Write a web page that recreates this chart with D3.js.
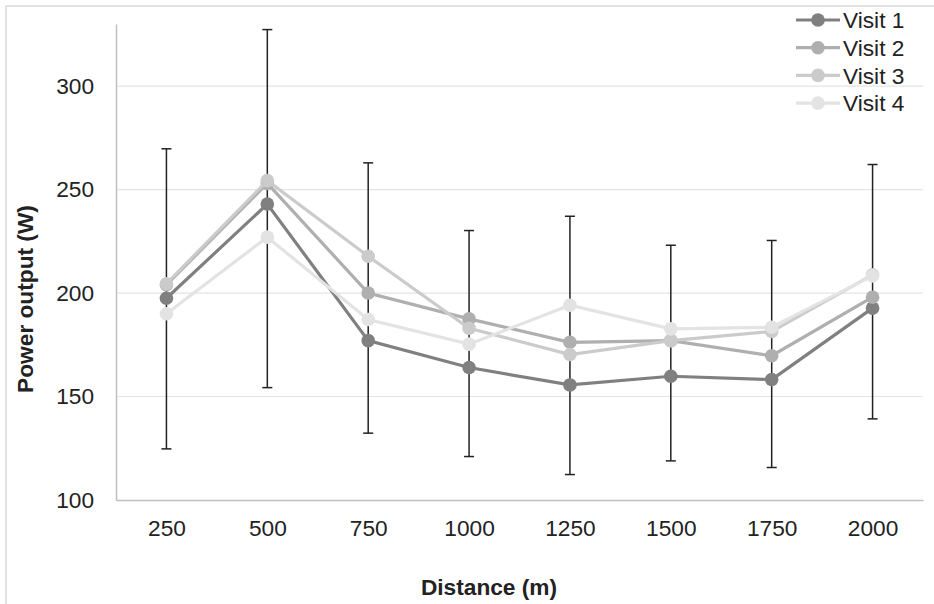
<!DOCTYPE html>
<html>
<head>
<meta charset="utf-8">
<script src="https://cdn.jsdelivr.net/npm/d3@7"></script>
<style>
body { margin: 0; background: #fff; }
svg { font-family: "Liberation Sans", Arial, sans-serif; }
.axis text { font-size: 22.7px; fill: #222; }
.grid line { stroke: #e4e4e4; stroke-width: 1.2px; }
.title { font-size: 22.7px; font-weight: bold; fill: #222; }
.err { stroke: #222; stroke-width: 1.5px; }
</style>
</head>
<body>
<svg id="chart" width="934" height="604"></svg>
<script>

/// data
var distances = ["250", "500", "750", "1000", "1250", "1500", "1750", "2000"];
var visit1 = [197.5, 243, 177, 164, 155.6, 159.8, 158.2, 192.7];
var visit2 = [204, 253, 200, 187.5, 176.2, 177, 169.7, 198];
var visit3 = [204.5, 254.3, 217.8, 183, 170.3, 177, 181.4, 208.8];
var visit4 = [190, 227, 187.2, 175.3, 194.1, 182.7, 183.5, 208.3];
var errTop = [269.7, 327.3, 262.9, 230.2, 237.1, 223.1, 225.4, 262.1];
var errBottom = [124.7, 154.3, 132.3, 121, 112.3, 118.9, 115.7, 139.2];
var yTicks = [100, 150, 200, 250, 300];
var seriesNames = ["Visit 1", "Visit 2", "Visit 3", "Visit 4"];
var seriesColors = ["#808080", "#afafaf", "#cbcbcb", "#e3e3e3"];

var series = [visit1, visit2, visit3, visit4].map(function(vals, i) {
  return { name: seriesNames[i], color: seriesColors[i],
           values: vals.map(function(v, j) { return { x: distances[j], y: v }; }) };
});

var svg = d3.select("#chart"),
    margin = {top: 24, right: 11, bottom: 104, left: 116},
    width = +svg.attr("width") - margin.left - margin.right,
    height = +svg.attr("height") - margin.top - margin.bottom;

/// outer chart border (right/bottom run off the picture)
svg.append("rect")
    .attr("x", 6).attr("y", 6)
    .attr("width", 940).attr("height", 620)
    .attr("fill", "none")
    .attr("stroke", "#d9d9d9")
    .attr("stroke-width", 1.5);

var g = svg.append("g").attr("transform", "translate(" + margin.left + "," + margin.top + ")");

var x = d3.scalePoint()
    .domain(distances)
    .range([0, width])
    .padding(0.5);

var y = d3.scaleLinear()
    .domain([100, 330])
    .range([height, 0]);

/// gridlines
g.append("g")
    .attr("class", "grid")
  .selectAll("line")
  .data(yTicks.slice(1))
  .enter().append("line")
    .attr("x1", 0).attr("x2", width)
    .attr("y1", function(d) { return y(d); })
    .attr("y2", function(d) { return y(d); });

/// axes
var yAxis = g.append("g")
    .attr("class", "axis axis--y")
    .call(d3.axisLeft(y).tickValues(yTicks).tickSize(0).tickPadding(22));
yAxis.select(".domain").attr("stroke", "#bfbfbf").attr("stroke-width", 1.5);

var xAxis = g.append("g")
    .attr("class", "axis axis--x")
    .attr("transform", "translate(0," + height + ")")
    .call(d3.axisBottom(x).tickSize(0).tickPadding(20));
xAxis.select(".domain").attr("stroke", "#bfbfbf").attr("stroke-width", 1.5);

/// error bars
var err = g.append("g").selectAll("g")
  .data(distances)
  .enter().append("g")
    .attr("class", "err");

err.append("line")
    .attr("x1", function(d) { return x(d); })
    .attr("x2", function(d) { return x(d); })
    .attr("y1", function(d, i) { return y(errTop[i]); })
    .attr("y2", function(d, i) { return y(errBottom[i]); });

err.append("line")
    .attr("x1", function(d) { return x(d) - 5; })
    .attr("x2", function(d) { return x(d) + 5; })
    .attr("y1", function(d, i) { return y(errTop[i]); })
    .attr("y2", function(d, i) { return y(errTop[i]); });

err.append("line")
    .attr("x1", function(d) { return x(d) - 5; })
    .attr("x2", function(d) { return x(d) + 5; })
    .attr("y1", function(d, i) { return y(errBottom[i]); })
    .attr("y2", function(d, i) { return y(errBottom[i]); });

/// lines and markers
var line = d3.line()
    .x(function(d) { return x(d.x); })
    .y(function(d) { return y(d.y); });

var s = g.selectAll(".series")
  .data(series)
  .enter().append("g")
    .attr("class", "series");

s.append("path")
    .attr("fill", "none")
    .attr("stroke", function(d) { return d.color; })
    .attr("stroke-width", 3.2)
    .attr("d", function(d) { return line(d.values); });

s.selectAll("circle")
  .data(function(d) { return d.values.map(function(v) { return {x: v.x, y: v.y, color: d.color}; }); })
  .enter().append("circle")
    .attr("cx", function(d) { return x(d.x); })
    .attr("cy", function(d) { return y(d.y); })
    .attr("r", 6.8)
    .attr("fill", function(d) { return d.color; });

/// axis titles
svg.append("text")
    .attr("class", "title")
    .attr("x", 489).attr("y", 595)
    .attr("text-anchor", "middle")
    .text("Distance (m)");

svg.append("text")
    .attr("class", "title")
    .attr("transform", "translate(33,299) rotate(-90)")
    .attr("text-anchor", "middle")
    .text("Power output (W)");

/// legend
var legend = svg.append("g").selectAll("g")
  .data(series)
  .enter().append("g")
    .attr("transform", function(d, i) { return "translate(796," + (20 + i * 27.7) + ")"; });

legend.append("line")
    .attr("x1", 0).attr("x2", 44)
    .attr("stroke", function(d) { return d.color; })
    .attr("stroke-width", 3.2);

legend.append("circle")
    .attr("cx", 22).attr("r", 6.8)
    .attr("fill", function(d) { return d.color; });

legend.append("text")
    .attr("x", 47)
    .attr("dy", "0.36em")
    .style("font-size", "22.7px")
    .style("fill", "#222")
    .text(function(d) { return d.name; });

</script>
</body>
</html>
